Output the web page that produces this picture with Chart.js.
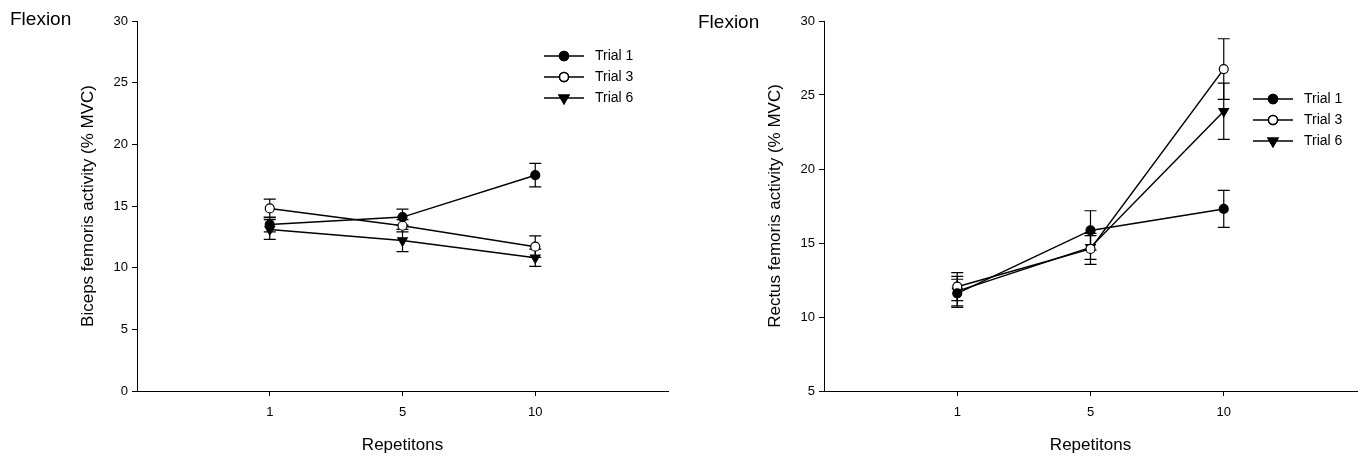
<!DOCTYPE html>
<html>
<head>
<meta charset="utf-8">
<script src="https://cdn.jsdelivr.net/npm/chart.js@4.4.0/dist/chart.umd.min.js"></script>
<style>
  body { margin: 0; background: #fff; }
  .wrap { position: relative; width: 1367px; height: 460px; }
  .panel { position: absolute; top: 0; height: 460px; }
  .flex { position: absolute; font: 19px "Liberation Sans", Arial, sans-serif; color: #000; }
</style>
</head>
<body>
<div class="wrap">
  <div class="panel" style="left:0;width:683px"><canvas id="myChart"></canvas></div>
  <div class="panel" style="left:683px;width:684px"><canvas id="myChart1"></canvas></div>
  <div class="flex" style="left:10px;top:8px">Flexion</div>
  <div class="flex" style="left:698px;top:11px">Flexion</div>
</div>
<script>
// repetitions on the x axis
var reps = ["1", "5", "10"];
var trials = ["Trial 1", "Trial 3", "Trial 6"];

// biceps femoris (% MVC) and SE
var bfTrial1 = [13.5, 14.1, 17.5];
var bfTrial3 = [14.8, 13.4, 11.7];
var bfTrial6 = [13.1, 12.2, 10.8];
var bfErr1 = [0.6, 0.65, 0.95];
var bfErr3 = [0.75, 0.5, 0.87];
var bfErr6 = [0.8, 0.9, 0.7];

// rectus femoris (% MVC) and SE
var rfTrial1 = [11.6, 15.85, 17.3];
var rfTrial3 = [12.05, 14.6, 26.75];
var rfTrial6 = [11.75, 14.7, 23.9];
var rfErr1 = [0.95, 1.33, 1.25];
var rfErr3 = [0.95, 1.05, 2.05];
var rfErr6 = [1.0, 0.8, 1.9];

Chart.defaults.font.family = "'Liberation Sans', Arial, sans-serif";
Chart.defaults.color = "#000";

var markers = [
  { pointStyle: "circle", pointRadius: 4.5, pointBackgroundColor: "#000", pointRotation: 0 },
  { pointStyle: "circle", pointRadius: 4.5, pointBackgroundColor: "#fff", pointRotation: 0 },
  { pointStyle: "triangle", pointRadius: 5.5, pointBackgroundColor: "#000", pointRotation: 180 },
];

function points(vals) {
  return vals.map(function (v, i) { return { x: i + 1, y: v }; });
}

var errorBars = {
  id: "errorBars",
  beforeDatasetsDraw: function (chart, args, opts) {
    var c = chart.ctx;
    var xs = chart.scales.x, ys = chart.scales.y;
    c.save();
    c.strokeStyle = "#000";
    c.lineWidth = 1.2;
    chart.data.datasets.forEach(function (ds) {
      ds.data.forEach(function (p, i) {
        var e = ds.err[i];
        var x = xs.getPixelForValue(p.x);
        var y1 = ys.getPixelForValue(p.y + e);
        var y2 = ys.getPixelForValue(p.y - e);
        c.beginPath();
        c.moveTo(x, y1); c.lineTo(x, y2);
        c.moveTo(x - 6, y1); c.lineTo(x + 6, y1);
        c.moveTo(x - 6, y2); c.lineTo(x + 6, y2);
        c.stroke();
      });
    });
    c.restore();
  },
};

var lineLegend = {
  id: "lineLegend",
  afterDraw: function (chart, args, opts) {
    var c = chart.ctx;
    c.save();
    chart.data.datasets.forEach(function (ds, i) {
      var y = opts.y + i * opts.gap;
      c.strokeStyle = "#000";
      c.lineWidth = 1.5;
      c.beginPath();
      c.moveTo(opts.x, y); c.lineTo(opts.x + 40, y);
      c.stroke();
      Chart.helpers.drawPoint(c, {
        pointStyle: ds.pointStyle, radius: ds.pointRadius, rotation: ds.pointRotation, borderWidth: 1.2
      }, opts.x + 20, y);
      c.fillStyle = ds.pointBackgroundColor;
      c.fill();
      c.stroke();
      c.fillStyle = "#000";
      c.font = "14px 'Liberation Sans', Arial, sans-serif";
      c.textBaseline = "middle";
      c.fillText(ds.label, opts.x + 51, y);
    });
    c.restore();
  },
};

function makeChart(id, sets, errs, yMin, yTitle, padLeft, yWidth, padRight, legendPos) {
  var ctx = document.getElementById(id).getContext("2d");
  return new Chart(ctx, {
    type: "line",
    data: {
      datasets: sets.map(function (vals, k) {
        return Object.assign({
          label: trials[k],
          data: points(vals),
          err: errs[k],
          borderColor: "#000",
          borderWidth: 1.5,
          pointBorderColor: "#000",
          pointBorderWidth: 1.2,
          tension: 0,
        }, markers[k]);
      }),
    },
    options: {
      responsive: true,
      maintainAspectRatio: false,
      animation: false,
      layout: { padding: { left: padLeft, top: 21, right: padRight, bottom: 0 } },
      scales: {
        x: {
          type: "linear",
          min: 0,
          max: 4,
          afterBuildTicks: function (s) { s.ticks = [{ value: 1 }, { value: 2 }, { value: 3 }]; },
          afterFit: function (s) { s.height = 69; },
          ticks: { callback: function (v) { return reps[v - 1]; }, font: { size: 13 }, padding: 9 },
          grid: { drawOnChartArea: false, tickLength: 5, color: "#000" },
          border: { color: "#000", width: 1 },
          title: { display: true, text: "Repetitons", font: { size: 17 }, padding: { top: 0, bottom: 4 } },
        },
        y: {
          min: yMin,
          max: 30,
          afterFit: function (s) { s.width = yWidth; },
          ticks: { stepSize: 5, font: { size: 13 }, padding: 4 },
          grid: { drawOnChartArea: false, tickLength: 5, color: "#000" },
          border: { color: "#000", width: 1 },
          title: { display: true, text: yTitle, font: { size: 17 }, padding: 0 },
        },
      },
      plugins: {
        legend: { display: false },
        tooltip: { enabled: false },
        lineLegend: legendPos,
      },
    },
    plugins: [errorBars, lineLegend],
  });
}

makeChart("myChart", [bfTrial1, bfTrial3, bfTrial6], [bfErr1, bfErr3, bfErr6], 0,
  "Biceps femoris activity (% MVC)", 78, 59, 15, { x: 544, y: 56, gap: 21 });
makeChart("myChart1", [rfTrial1, rfTrial3, rfTrial6], [rfErr1, rfErr3, rfErr6], 5,
  "Rectus femoris activity (% MVC)", 82, 59, 10, { x: 1253 - 683, y: 99, gap: 21 });
</script>
</body>
</html>
